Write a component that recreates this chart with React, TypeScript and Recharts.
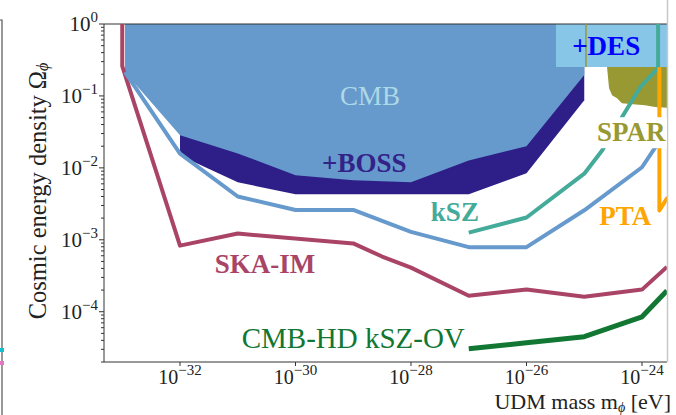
import React from 'react';
import { ComposedChart, XAxis, YAxis, Area, Line, Scatter, ReferenceLine } from 'recharts';

const SERIF = '"Liberation Serif", "DejaVu Serif", serif';

// axis limits
const MASS_MIN = 4.83e-34;
const MASS_MAX = 2.71e-24;
const DENSITY_MIN = 2e-5;
const DENSITY_MAX = 1;
const REGION_TOP = 10;

// tick labels
const massTicks = [1e-32, 1e-30, 1e-28, 1e-26, 1e-24];
const densityMajorTicks = [1, 1e-1, 1e-2, 1e-3, 1e-4];
const densityMinorFactors = [2, 3, 4, 5, 6, 7, 8, 9];

// excluded regions (lower boundary of each shaded region)
const cmbMass = [1.117e-33, 1e-32, 1e-31, 1e-30, 1e-29, 1e-28, 1e-27, 1e-26, 1e-25];
const cmbLower = [0.214, 2.84e-2, 1.59e-2, 7.9e-3, 6.7e-3, 6.3e-3, 1.27e-2, 2.0e-2, 0.195];

const bossMass = [1e-32, 1e-31, 1e-30, 1e-29, 1e-28, 1e-27, 1e-26, 1e-25];
const bossLower = [1.49e-2, 6.3e-3, 4.3e-3, 4.3e-3, 4.3e-3, 4.3e-3, 8.4e-3, 8.7e-2];

const desMass = [3.24e-26, 1e-23];
const desLower = [0.252, 0.252];

const sparMass = [1.07e-25, 2.48e-25, 2.69e-25, 3.03e-25, 3.7e-25, 4.5e-25, 6.2e-25, 1.13e-24, 1.68e-24, 1e-23];
const sparLower = [0.252, 0.252, 0.128, 0.102, 0.093, 0.079, 0.077, 0.074, 0.07, 0.064];

const sparEdgeMass = [1.07e-25, 1.07e-25];
const sparEdgeDensity = [1, 0.252];

// forecast curves
const skaMass = [1e-33, 1e-33, 1e-32, 1e-31, 1e-29, 3.16e-29, 1e-28, 1e-27, 1e-26, 1e-25, 1e-24, 2.7e-24];
const skaDensity = [10, 0.26, 8.3e-4, 1.22e-3, 8.9e-4, 5.85e-4, 4.1e-4, 1.67e-4, 2.03e-4, 1.62e-4, 2.03e-4, 4.2e-4];

const s4Mass = [1.117e-33, 1e-32, 1e-31, 1e-30, 1e-29, 1e-28, 1e-27, 1e-26, 1e-25, 1e-24, 1.9e-24];
const s4Density = [0.214, 1.58e-2, 4.0e-3, 2.6e-3, 2.6e-3, 1.29e-3, 7.9e-4, 7.9e-4, 2.57e-3, 1.02e-2, 2.2e-2];

const kszMass = [1e-27, 1e-26, 1e-25, 2.04e-25, 4.47e-25, 9.3e-25, 1.9e-24, 1.9e-24];
const kszDensity = [1.26e-3, 2.04e-3, 8.3e-3, 1.74e-2, 5.0e-2, 0.132, 0.245, 10];

const hdMass = [1e-27, 1e-26, 1e-25, 1e-24, 2.7e-24];
const hdDensity = [3.05e-5, 3.7e-5, 4.5e-5, 8.5e-5, 1.96e-4];

const ptaMass = [2.0e-24, 2.0e-24, 2.78e-24];
const ptaDensity = [0.25, 2.56e-3, 3.9e-3];

// annotations
const labelText = ['CMB', '+BOSS', '+DES', 'kSZ', 'SKA-IM', 'CMB-HD kSZ-OV', 'PTA', 'SPAR'];
const labelMass = [1.95e-29, 1.55e-29, 2.4e-25, 5.75e-28, 2.95e-31, 1.0e-29, 5.13e-25, 1.66e-25];
const labelDensity = [0.0993, 1.16e-2, 0.493, 2.4e-3, 4.68e-4, 4.36e-5, 2.11e-3, 3.13e-2];
const labelColor = ['#ADD8E6', '#332288', '#0000FF', '#44AA99', '#AA4466', '#117733', '#FFA500', '#999933'];
const labelWeight = [400, 700, 700, 700, 700, 400, 700, 700];
const labelSize = [27, 27, 27, 27, 27, 29, 27, 27];
const labelAnchor = ['middle', 'middle', 'middle', 'middle', 'middle', 'middle', 'middle', 'start'];

const pairs = (xs: number[], ys: number[]) => xs.map((x, i) => ({ x, y: ys[i] }));
const bands = (xs: number[], lo: number[]) => xs.map((x, i) => ({ x, r: [lo[i], REGION_TOP] }));

const majorSet = new Set(densityMajorTicks);
const densityAllTicks = [
  ...densityMajorTicks,
  ...[1e-1, 1e-2, 1e-3, 1e-4, 1e-5].flatMap((d) => densityMinorFactors.map((f) => f * d)),
].filter((v) => v >= DENSITY_MIN * 0.999 && v <= DENSITY_MAX);

const expText = (v: number) => {
  const e = Math.round(Math.log10(v));
  return e < 0 ? '\u2212' + Math.abs(e) : String(e);
};

const MassTick = (props: any) => {
  const { x, y, payload } = props;
  return (
    <g>
      <line x1={x} x2={x} y1={y} y2={y + 4} stroke="#333" strokeWidth={1} />
      <text x={x} y={y + 22} textAnchor="middle" fontSize={20} fill="#222" fontFamily={SERIF}>
        10
        <tspan dy={-9} fontSize={15}>{expText(payload.value)}</tspan>
      </text>
    </g>
  );
};

const DensityTick = (props: any) => {
  const { x, y, payload } = props;
  const major = majorSet.has(payload.value);
  return (
    <g>
      <line x1={x - (major ? 5 : 3)} x2={x} y1={y} y2={y} stroke="#333" strokeWidth={1} />
      {major && (
        <text x={x - 6} y={y + 7} textAnchor="end" fontSize={21} fill="#222" fontFamily={SERIF}>
          10
          <tspan dy={-9} fontSize={15}>{expText(payload.value)}</tspan>
        </text>
      )}
    </g>
  );
};

const YTitle = () => (
  <g>
    {/* remnant of neighbouring panel */}
    <polyline points="0,20 2,20 2,415" fill="none" stroke="#555" strokeWidth={1.2} />
    <rect x={0} y={348} width={4} height={4} fill="#17becf" />
    <rect x={0} y={361} width={4} height={4} fill="#e377c2" />
    {/* cropped right frame */}
    <line x1={667.5} x2={667.5} y1={0} y2={362} stroke="#c8c8c8" strokeWidth={1.5} />
    <text
      transform="translate(37,191) rotate(-90)"
      x={0}
      y={0}
      textAnchor="middle"
      dominantBaseline="central"
      fontSize={24.5}
      fill="#222"
      fontFamily={SERIF}
    >
      Cosmic energy density {'\u03A9'}
      <tspan dy={5} fontSize={16} fontStyle="italic">{'\u03D5'}</tspan>
    </text>
  </g>
);

const XTitle = () => (
  <text x={671} y={409} textAnchor="end" fontSize={22} fill="#222" fontFamily={SERIF}>
    UDM mass m
    <tspan dy={3} fontSize={14} fontStyle="italic">{'\u03D5'}</tspan>
    <tspan dy={-3}> [eV]</tspan>
  </text>
);

const makeLabel = (i: number) => (props: any) => {
  const { cx, cy } = props;
  const isSpar = labelText[i] === 'SPAR';
  return (
    <g>
      {isSpar && <rect x={cx - 3} y={cy - 15} width={80} height={31} fill="#ffffff" />}
      <text
        x={cx}
        y={cy}
        fill={labelColor[i]}
        fontSize={labelSize[i]}
        fontWeight={labelWeight[i]}
        textAnchor={labelAnchor[i]}
        dominantBaseline="central"
        fontFamily={SERIF}
      >
        {labelText[i]}
      </text>
    </g>
  );
};

export default function App() {
  return (
    <div style={{ position: 'absolute', left: 0, top: 0, width: 676, height: 415, background: '#fff' }}>
      <ComposedChart width={676} height={415} margin={{ top: 24, right: 9, bottom: 23, left: 0 }}>
        <XAxis
          dataKey="x"
          type="number"
          scale="log"
          domain={[MASS_MIN, MASS_MAX]}
          allowDataOverflow
          ticks={massTicks}
          interval={0}
          tickSize={0}
          tickMargin={0}
          tickLine={false}
          tick={<MassTick />}
          height={30}
          axisLine={{ stroke: '#333', strokeWidth: 1 }}
          label={{ content: () => <XTitle /> }}
        />
        <YAxis
          dataKey="y"
          type="number"
          scale="log"
          domain={[DENSITY_MIN, DENSITY_MAX]}
          allowDataOverflow
          ticks={densityAllTicks}
          interval={0}
          tickSize={0}
          tickMargin={0}
          tickLine={false}
          tick={<DensityTick />}
          width={104}
          axisLine={{ stroke: '#333', strokeWidth: 1 }}
          label={{ content: () => <YTitle /> }}
        />
        <Area data={bands(bossMass, bossLower)} dataKey="r" type="linear" fill="#2E1E87" fillOpacity={1} stroke="none" isAnimationActive={false} />
        <Area data={bands(cmbMass, cmbLower)} dataKey="r" type="linear" fill="#6699CC" fillOpacity={1} stroke="none" isAnimationActive={false} />
        <Area data={bands(sparMass, sparLower)} dataKey="r" type="linear" fill="#999933" fillOpacity={1} stroke="none" isAnimationActive={false} />
        <Area data={bands(desMass, desLower)} dataKey="r" type="linear" fill="#88C6E8" fillOpacity={1} stroke="none" isAnimationActive={false} />
        <ReferenceLine y={DENSITY_MAX} stroke="#333" strokeWidth={1.2} />
        <Line data={pairs(sparEdgeMass, sparEdgeDensity)} dataKey="y" type="linear" stroke="#999933" strokeWidth={1.5} dot={false} isAnimationActive={false} />
        <Line data={pairs(skaMass, skaDensity)} dataKey="y" type="linear" stroke="#AA4466" strokeWidth={4} strokeLinejoin="round" dot={false} isAnimationActive={false} />
        <Line data={pairs(s4Mass, s4Density)} dataKey="y" type="linear" stroke="#6699CC" strokeWidth={4} strokeLinejoin="round" dot={false} isAnimationActive={false} />
        <Line data={pairs(kszMass, kszDensity)} dataKey="y" type="linear" stroke="#44AA99" strokeWidth={4} strokeLinejoin="round" dot={false} isAnimationActive={false} />
        <Line data={pairs(hdMass, hdDensity)} dataKey="y" type="linear" stroke="#117733" strokeWidth={5} strokeLinejoin="round" dot={false} isAnimationActive={false} />
        <Line data={pairs(ptaMass, ptaDensity)} dataKey="y" type="linear" stroke="#FFA500" strokeWidth={4} strokeLinejoin="round" dot={false} isAnimationActive={false} />
        {labelText.map((t, i) => (
          <Scatter
            key={t}
            data={[{ x: labelMass[i], y: labelDensity[i] }]}
            dataKey="y"
            shape={makeLabel(i)}
            isAnimationActive={false}
          />
        ))}
      </ComposedChart>
    </div>
  );
}
